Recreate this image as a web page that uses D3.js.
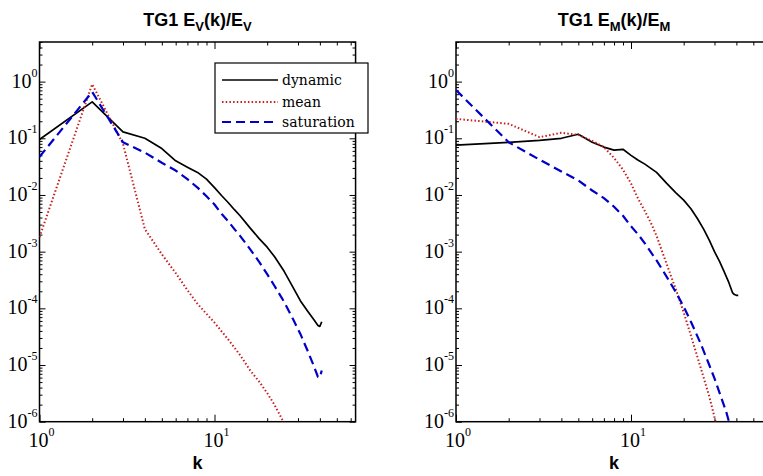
<!DOCTYPE html>
<html><head><meta charset="utf-8">
<script src="https://cdn.jsdelivr.net/npm/d3@7"></script>
<style>
body{margin:0;background:#fff;overflow:hidden}
.serif{font-family:"Liberation Serif","Times New Roman",Times,serif}
.lgd{font-family:"DejaVu Serif","Liberation Serif",serif}
.sans{font-family:"Liberation Sans",Arial,Helvetica,sans-serif;font-weight:bold}
</style>
</head><body>
<script>
// ---- data: kinetic (velocity) spectra, left panel ----
const kVdyn  = [1,2,3,4,5,6,7,8,9,10,11,12,13,14,16,18,20,22,25,28,31,34,37,39,40,41];
const eVdyn  = [0.095,0.44,0.13,0.1,0.066,0.04,0.031,0.025,0.019,0.0135,0.0097,0.0073,0.0055,0.0043,0.0026,0.0017,0.0012,0.00082,0.00045,0.00024,0.000135,0.00009,0.000063,0.00005,0.000048,0.000058];
const kVmean = [1,2,3,4,5,6,7,8,9,10,12,14,16,18,20,22,24,26,28];
const eVmean = [0.0018,0.9,0.08,0.0025,0.0009,0.00042,0.00021,0.00012,0.00008,0.000056,0.000028,0.000015,0.000008,0.0000051,0.0000032,0.000002,0.0000012,0.00000075,0.00000045];
const kVsat  = [1,2,3,4,5,6,7,8,9,10,11,12,13,14,16,18,20,22,25,28,31,34,37,39,40,41];
const eVsat  = [0.047,0.66,0.085,0.056,0.037,0.027,0.019,0.0135,0.0095,0.0068,0.0046,0.0034,0.0025,0.0019,0.0011,0.00066,0.0004,0.00025,0.00013,0.000066,0.000035,0.000018,0.0000095,0.0000062,0.000006,0.000008];
// ---- data: magnetic spectra, right panel ----
const kMdyn  = [1,2,3,4,5,6,7,8,9,10,11,12,14,16,18,20,22,24,26,28,30,32,34,36,38,39,40,41];
const eMdyn  = [0.076,0.085,0.092,0.1,0.118,0.085,0.07,0.062,0.064,0.05,0.041,0.035,0.025,0.016,0.011,0.0081,0.0057,0.0038,0.0025,0.0016,0.001,0.00068,0.00045,0.0003,0.00019,0.000175,0.00017,0.00017];
const kMmean = [1,2,3,4,5,6,7,8,9,10,11,12,13,14,16,18,20,22,25,28,30,32];
const eMmean = [0.22,0.18,0.105,0.125,0.115,0.09,0.07,0.045,0.028,0.016,0.0085,0.0052,0.0032,0.0019,0.0006,0.00022,0.000085,0.000033,0.000009,0.0000028,0.0000012,0.0000005];
const kMsat  = [1,2,3,4,5,6,7,8,9,10,11,12,14,16,18,20,22,25,28,30,32,35,38];
const eMsat  = [0.71,0.085,0.042,0.026,0.018,0.012,0.0088,0.0062,0.0043,0.0028,0.002,0.0014,0.0007,0.00036,0.000195,0.000107,0.000058,0.000024,0.00001,0.0000058,0.0000033,0.0000015,0.0000006];

const seriesNames = ["dynamic","mean","saturation"];
const xDomain = [1, 64];
const yDomain = [1e-6, 5];
const xMajor = [1, 10];
const yMajor = [1e-6,1e-5,1e-4,1e-3,1e-2,1e-1,1];

const styles = {
  dynamic:    {stroke:"#000", width:1.7, dash:null},
  mean:       {stroke:"#c81e1e", width:2, dash:"1.5,2.2"},
  saturation: {stroke:"#0000c8", width:2.2, dash:"9,5"}
};

const W = 763, H = 476;
const svg = d3.select("body").append("svg").attr("width", W).attr("height", H);

const panels = [
  {left:39.5, title:["TG1  E","V","(k)/E","V"], data:[[kVdyn,eVdyn],[kVmean,eVmean],[kVsat,eVsat]], legend:true, id:"a"},
  {left:456,  title:["TG1 E","M","(k)/E","M"], data:[[kMdyn,eMdyn],[kMmean,eMmean],[kMsat,eMsat]], legend:false, id:"b"}
];
const plotTop = 42, plotBottom = 421.7, decade = 175;

const expOf = d => Math.round(Math.log10(d));

panels.forEach(p => {
  const right = p.left + decade * Math.log10(xDomain[1]);
  const x = d3.scaleLog().domain(xDomain).range([p.left, right]);
  const y = d3.scaleLog().domain(yDomain).range([plotBottom, plotTop]);
  const g = svg.append("g");

  g.append("clipPath").attr("id","clip"+p.id).append("rect")
    .attr("x", p.left).attr("y", plotTop).attr("width", right - p.left).attr("height", plotBottom - plotTop);

  const xMinor = x.ticks().filter(v => !xMajor.includes(v));
  const yMinor = y.ticks().filter(v => !yMajor.some(m => Math.abs(m - v) / v < 1e-6));
  const mk = (axisFn, scale, vals, size, transform) => {
    const a = g.append("g").attr("transform", transform)
      .call(axisFn(scale).tickValues(vals).tickSizeInner(size).tickSizeOuter(0).tickFormat(""));
    a.select(".domain").remove();
    a.selectAll(".tick line").attr("stroke","#000").attr("stroke-width",1);
    return a;
  };
  mk(d3.axisBottom, x, xMinor, -3.5, `translate(0,${plotBottom})`);
  mk(d3.axisBottom, x, xMajor, -7, `translate(0,${plotBottom})`);
  mk(d3.axisTop, x, xMinor, -3.5, `translate(0,${plotTop})`);
  mk(d3.axisTop, x, xMajor, -7, `translate(0,${plotTop})`);
  mk(d3.axisLeft, y, yMinor, -3, `translate(${p.left},0)`);
  mk(d3.axisLeft, y, yMajor, -6, `translate(${p.left},0)`);
  mk(d3.axisRight, y, yMinor, -3, `translate(${right},0)`);
  mk(d3.axisRight, y, yMajor, -6, `translate(${right},0)`);

  g.append("rect").attr("x", p.left).attr("y", plotTop).attr("width", right - p.left).attr("height", plotBottom - plotTop)
    .attr("fill","none").attr("stroke","#000").attr("stroke-width",1.5);

  yMajor.forEach(v => {
    const t = g.append("text").attr("class","serif").attr("x", p.left - 2).attr("y", y(v) + 6)
      .attr("text-anchor","end").attr("fill","#000");
    t.append("tspan").style("font-size","20px").text("10");
    t.append("tspan").style("font-size","12px").attr("dy", -11).text(String(expOf(v)));
  });
  xMajor.forEach(v => {
    const t = g.append("text").attr("class","serif").attr("x", x(v) - 11).attr("y", 447)
      .attr("text-anchor","start").attr("fill","#000");
    t.append("tspan").style("font-size","20px").text("10");
    t.append("tspan").style("font-size","12px").attr("dy", -11).text(String(expOf(v)));
  });
  g.append("text").attr("class","sans").attr("x", (p.left + right) / 2).attr("y", 469).attr("text-anchor","middle")
    .style("font-size","18px").text("k");

  const tt = g.append("text").attr("class","sans").attr("x", (p.left + right) / 2).attr("y", 26).attr("text-anchor","middle")
    .style("font-size","18px");
  tt.append("tspan").text(p.title[0]);
  tt.append("tspan").style("font-size","13px").attr("dy", 5).text(p.title[1]);
  tt.append("tspan").attr("dy", -5).text(p.title[2]);
  tt.append("tspan").style("font-size","13px").attr("dy", 5).text(p.title[3]);

  const line = d3.line().x(d => x(d[0])).y(d => y(d[1]));
  const cg = g.append("g").attr("clip-path", `url(#clip${p.id})`);
  p.data.forEach((s, i) => {
    const st = styles[seriesNames[i]];
    const pts = s[0].map((k, j) => [k, s[1][j]]);
    cg.append("path").datum(pts).attr("d", line).attr("fill","none")
      .attr("stroke", st.stroke).attr("stroke-width", st.width)
      .attr("stroke-dasharray", st.dash).attr("stroke-linejoin","round");
  });

  if (p.legend) {
    const lg = svg.append("g");
    lg.append("rect").attr("x", 215).attr("y", 63).attr("width", 153).attr("height", 70)
      .attr("fill","#fff").attr("stroke","#000").attr("stroke-width",1.2);
    const rows = [80, 102, 122];
    seriesNames.forEach((n, i) => {
      const st = styles[n];
      lg.append("line").attr("x1", 222).attr("x2", 278).attr("y1", rows[i]).attr("y2", rows[i])
        .attr("stroke", st.stroke).attr("stroke-width", st.width).attr("stroke-dasharray", st.dash);
      lg.append("text").attr("class","lgd").attr("x", 282).attr("y", rows[i] + 4.5)
        .style("font-size","14px").text(n);
    });
  }
});
</script>
</body></html>
